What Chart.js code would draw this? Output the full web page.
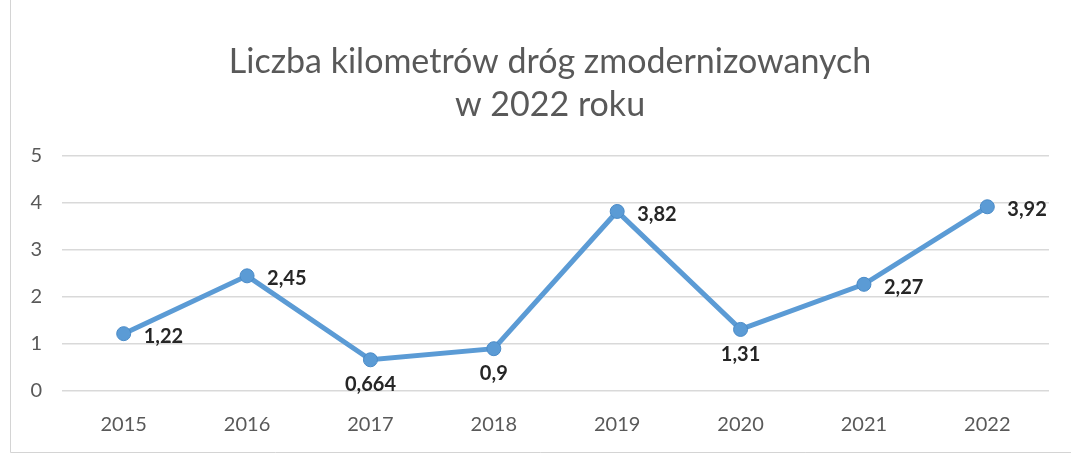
<!DOCTYPE html>
<html>
<head>
<meta charset="utf-8">
<script src="https://cdn.jsdelivr.net/npm/chart.js@4.4.0/dist/chart.umd.min.js"></script>
<style>
html,body{margin:0;padding:0;background:#fff;}
#wrap{width:1071px;height:459px;position:relative;}
</style>
</head>
<body>
<div id="wrap"><canvas id="c" width="1071" height="459"></canvas></div>
<script>
const titleLines = ['Liczba kilometrów dróg zmodernizowanych', 'w 2022 roku'];
const years = ['2015','2016','2017','2018','2019','2020','2021','2022'];
const values = [1.22, 2.45, 0.664, 0.9, 3.82, 1.31, 2.27, 3.92];
const labelPlacement = ['right','right','below','below','right','below','right','right'];
const yTicks = [0,1,2,3,4,5];

const FONT = 'Lato, "Open Sans", sans-serif';

const frame = {
  id: 'frame',
  beforeDraw(chart) {
    const ctx = chart.ctx;
    ctx.save();
    ctx.fillStyle = '#ffffff';
    ctx.fillRect(0,0,chart.width,chart.height);
    ctx.strokeStyle = '#d4d4d4';
    ctx.lineWidth = 1;
    ctx.beginPath();
    ctx.moveTo(10.5, 0); ctx.lineTo(10.5, 452.5); ctx.lineTo(1071, 452.5);
    ctx.stroke();
    ctx.restore();
  }
};

const titleText = {
  id: 'titleText',
  afterDraw(chart) {
    const ctx = chart.ctx;
    ctx.save();
    ctx.font = '34px ' + FONT;
    ctx.fillStyle = '#595959';
    ctx.textAlign = 'center';
    ctx.textBaseline = 'middle';
    titleLines.forEach((line, i) => ctx.fillText(line, 550, 62 + i * 43));
    ctx.restore();
  }
};

const valueLabels = {
  id: 'valueLabels',
  afterDatasetsDraw(chart) {
    const ctx = chart.ctx;
    const meta = chart.getDatasetMeta(0);
    ctx.save();
    ctx.font = 'bold 20px ' + FONT;
    ctx.fillStyle = '#262626';
    meta.data.forEach((pt, i) => {
      const txt = String(values[i]).replace('.', ',');
      ctx.textBaseline = 'middle';
      if (labelPlacement[i] === 'right') {
        ctx.textAlign = 'left';
        ctx.fillText(txt, pt.x + 20, pt.y + 3);
      } else {
        ctx.textAlign = 'center';
        ctx.fillText(txt, pt.x, pt.y + 25);
      }
    });
    ctx.restore();
  }
};

new Chart(document.getElementById('c'), {
  type: 'line',
  data: {
    labels: years,
    datasets: [{
      data: values,
      borderColor: '#5B9BD5',
      backgroundColor: '#5B9BD5',
      borderWidth: 5,
      pointRadius: 7,
      pointHoverRadius: 7,
      pointBackgroundColor: '#5B9BD5',
      pointBorderColor: '#4A8BC8',
      pointBorderWidth: 1,
      tension: 0
    }]
  },
  options: {
    responsive: false,
    animation: false,
    devicePixelRatio: 1,
    layout: { padding: { top: 156, right: 22, bottom: 0, left: 0 } },
    plugins: {
      legend: { display: false },
      tooltip: { enabled: false },
      title: { display: false }
    },
    scales: {
      x: {
        offset: true,
        grid: { display: false, drawTicks: false },
        border: { display: false },
        ticks: { color: '#595959', font: { family: FONT, size: 20 }, padding: 22, maxRotation: 0 }
      },
      y: {
        min: 0, max: 5,
        afterFit(scale) { scale.width = 62; },
        afterBuildTicks(scale) { scale.ticks = yTicks.map(v => ({ value: v })); },
        grid: { color: '#d9d9d9', lineWidth: 1.5, drawTicks: false },
        border: { display: false },
        ticks: { color: '#595959', font: { family: FONT, size: 20 }, padding: 20 }
      }
    }
  },
  plugins: [frame, titleText, valueLabels]
});
</script>
</body>
</html>
